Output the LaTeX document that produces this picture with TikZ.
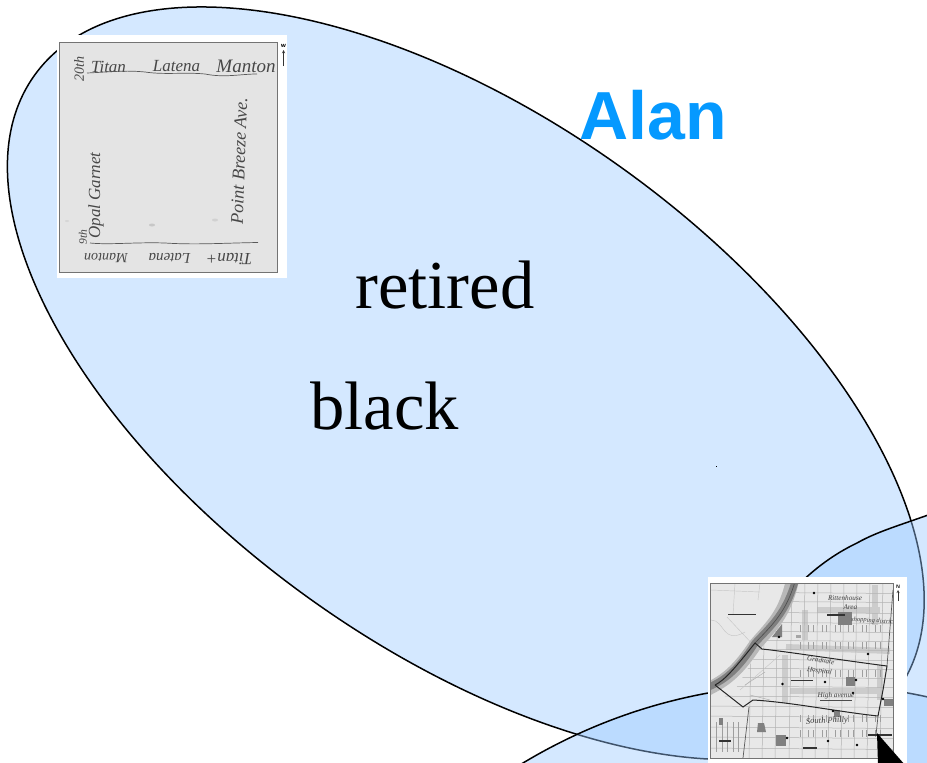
\documentclass[tikz,border=0pt]{standalone}
\usepackage{fontspec}
\setmainfont{Liberation Serif}
\newfontfamily\alanfont{Liberation Sans}
\definecolor{ellfill}{RGB}{152,200,255}
\definecolor{alanblue}{HTML}{0599FF}
\tikzset{
  blob/.style={fill=ellfill,fill opacity=0.42,draw=black,draw opacity=1,line width=1.5pt},
  bigword/.style={anchor=base,font=\fontsize{68.6}{68.6}\selectfont,text=black,inner sep=0pt},
  hand/.style={font=\itshape\fontsize{17}{17}\selectfont,text=black!72,inner sep=0pt},
  maphand/.style={font=\itshape\fontsize{7.2}{7.2}\selectfont,text=black!75,inner sep=0pt,align=center},
  street/.style={draw=black!30,line width=0.5pt},
  thinstreet/.style={draw=black!38,line width=0.35pt},
  band/.style={draw=black!20,line width=6pt},
  park/.style={fill=black!50},
  mapbar/.style={draw=black!80,line width=1.9pt},
  border/.style={draw=black!85,line width=1pt},
}
\begin{document}
\begin{tikzpicture}[x=1pt,y=-1pt]
\useasboundingbox (0,0) rectangle (927,763);
\clip (0,0) rectangle (927,763);
% ellipses
\path[blob,rotate around={-35.5:(465.8,383.3)}] (465.8,383.3) ellipse [x radius=530pt,y radius=266pt];
\path[blob] (808,1237) circle [radius=553pt];
\path[blob] (719,775) .. controls (730,650) and (790,575) .. (857,543) .. controls (880,530) and (905,524) .. (950,507) -- (1000,507) -- (1000,800) -- (719,800) -- cycle;
% tiny dot
\fill[black] (715.5,465.5) rectangle (716.8,466.8);
% words
\node[bigword] (retired) at (445,308) {retired};
\node[bigword] (black) at (384.5,429) {black};
\node[anchor=base,inner sep=0pt,text=alanblue,font=\alanfont\bfseries\fontsize{68}{68}\selectfont] (alan) at (653,139) {Alan};
% ---------- sketch inset ----------
\fill[white] (57,35) rectangle (287,278);
\draw[draw=black!55,fill=black!10.5,line width=0.8pt] (59.5,42) rectangle (277.5,272);
\node[hand,anchor=base] (t1) at (108.5,72) {Titan};
\node[hand,anchor=base] (t2) at (176.5,71) {Latena};
\node[hand,anchor=base,font=\itshape\fontsize{19}{19}\selectfont] (t3) at (246,72) {Manton};
\node[hand,rotate=90,font=\itshape\fontsize{14}{14}\selectfont] (t4) at (79,69) {20th};
\node[hand,rotate=90,font=\itshape\fontsize{11.5}{11.5}\selectfont] (t5) at (83,237) {9th};
\node[hand,rotate=90,anchor=base] (t6) at (100,195.5) {Opal Garnet};
\node[hand,rotate=88,anchor=base,font=\itshape\fontsize{18}{18}\selectfont] (t7) at (245,161) {Point Breeze Ave.};
\node[hand,rotate=180,anchor=base,font=\itshape\fontsize{14}{14}\selectfont] (t8) at (106,253) {Manton};
\node[hand,rotate=180,anchor=base,font=\itshape\fontsize{15}{15}\selectfont] (t9) at (169.5,253) {Latena};
\node[hand,rotate=180,anchor=base,font=\itshape\fontsize{17}{17}\selectfont] (t10) at (229,253) {Titan+};
\draw[black!65,line width=0.7pt] (87,73) .. controls (110,72) and (125,70) .. (145,72) .. controls (165,75) and (185,72) .. (205,74) .. controls (225,78) and (240,74) .. (257,74);
\draw[black!65,line width=0.7pt] (90,243) .. controls (110,245) and (135,242) .. (165,243) .. controls (195,245) and (225,243) .. (258,242.5);
\fill[black!22] (152,225) ellipse [x radius=3pt,y radius=1.5pt];
\fill[black!18] (215,220) ellipse [x radius=3pt,y radius=1.5pt];
\fill[black!16] (67,221) ellipse [x radius=2pt,y radius=1pt];
\node[inner sep=0pt,font=\bfseries\sffamily\fontsize{7}{7}\selectfont] (wlab) at (283.5,46) {w};
\coordinate (wa) at (283.5,66);
\coordinate (wb) at (283.5,50);
\draw[-stealth,line width=0.5pt,black!80] (wa) -- (wb);
% ---------- map inset ----------
\fill[white] (708,577) rectangle (907,763);
\fill[black!9] (710.5,583) rectangle (893,758);
\begin{scope}
\clip (710.5,583) rectangle (893,758);
% light bands
\foreach \a/\b in {{(786,647)/(890,651)},{(790,691)/(880,691)},{(785,655)/(785,703)},{(880,665)/(880,700)},{(817,610)/(880,610)},{(875,585)/(875,625)},{(805,610)/(805,640)}}{
  \draw[band] \a -- \b;
}
% east of river grid
\begin{scope}
\clip (790,583) -- (893,583) -- (893,758) -- (711,758) -- (711,705) -- (735,690) -- (760,648) -- (778,620) -- cycle;
\foreach \y in {592,601,612,622,631,640,649,659,668,677,686,696,706,716,727,737,748}{
  \draw[street] (700,\y) -- (900,\y+1.5);
}
\foreach \x in {752,765,778,792,805,818,831,844,857,870,883}{
  \draw[street] (\x,580) -- (\x-3,760);
}
\foreach \x in {800,808,813,822,826,835,840,848,853,862,866,875,880}{
  \foreach \y in {625,642,670,715,730}{
    \draw[thinstreet] (\x,\y) -- (\x,\y+7);
  }
}
\foreach \x in {716,722,727,733,738}{
  \draw[thinstreet] (\x,722) -- (\x,752);
}
\end{scope}
% west side
\draw[black!22,line width=0.45pt] (711,590) -- (760,592) (735,583) -- (733,615) (711,620) .. controls (725,620) and (722,645) .. (745,632) (727,617) -- (758,650) (760,583) -- (758,600) (780,655) -- (740,690);
\foreach \a/\b in {{(745,685)/(765,672)},{(750,695)/(770,700)}}{
  \draw[black!32,line width=0.45pt] \a -- \b;
}
% river
\draw[black!28,line width=13pt] (706,690) .. controls (722,682) and (735,675) .. (755,645) .. controls (772,625) and (785,615) .. (793,578);
\draw[black!50,line width=7pt] (706,688) .. controls (722,682) and (737,672) .. (755,643) .. controls (772,625) and (787,612) .. (796,578);
\draw[black!70,line width=0.6pt] (755,643) .. controls (772,625) and (787,612) .. (796,578);
% parks
\fill[park] (838,612) rectangle (852,625);
\fill[park] (845.5,677) rectangle (855,686);
\fill[park] (776,735) rectangle (786,746);
\fill[park] (758,723) -- (764,723) -- (766,732) -- (757,732) -- cycle;
\fill[park] (718.5,718) rectangle (723,725);
\fill[park] (772,637) -- (782,624) -- (782,637) -- cycle;
\fill[park] (834,710) rectangle (840,717);
\fill[park] (884,699) rectangle (893,706);
\fill[black!35] (796,634.5) rectangle (801,637.5);
% boundary
\draw[border] (715,685) .. controls (725,680) and (735,668) .. (755,643) -- (762,649) .. controls (790,652) and (840,660) .. (887,666) -- (883,690) -- (878,716);
\draw[border] (715,685) -- (743,707) -- (753,700) .. controls (790,702) and (840,712) .. (878,716);
\draw[black!65,line width=0.7pt] (887,666) -- (893,590);
\draw[black!65,line width=0.7pt] (749,707) -- (743,758);
\draw[black!65,line width=0.7pt] (878,716) -- (876,735);
% label marks
\foreach \a/\b in {{(728,614.5)/(756,614.5)},{(827,615)/(845,615)},{(791,680.5)/(813,680.5)},{(719,741)/(731,741)},{(803,748)/(817,748)},{(868,735)/(892,735)}}{
  \draw[mapbar] \a -- \b;
}
% dots
\foreach \x/\y in {814/593,779/637,868/654,782.5/684,825/682,856/680,853/693,833/711,787/738,828/741,857/745,883/699}{
  \fill[black] (\x,\y) circle [radius=1.3pt];
}
\node[maphand] (h1) at (845,602.5) {Rittenhouse\\[1pt]\hspace*{1.5em}Area};
\node[maphand,rotate=-4,font=\itshape\fontsize{6.5}{6.5}\selectfont] (h2) at (873,621) {shopping district};
\node[maphand,rotate=-8] (h3) at (820,666) {Graduate\\[3pt]Hospital};
\node[maphand] (h4) at (836,696) {High avenue};
\draw[black!70,line width=0.4pt] (820,700) -- (852,700);
\node[maphand,rotate=3,font=\itshape\fontsize{8.5}{8.5}\selectfont] (h5) at (827,721) {South Philly};
\end{scope}
\draw[black!55,line width=0.8pt] (710.5,583) rectangle (893,758);
\node[inner sep=0pt,font=\bfseries\sffamily\fontsize{5}{5}\selectfont] (nlab) at (898,587) {N};
\coordinate (na) at (898,601);
\coordinate (nb) at (898,590);
\draw[-stealth,line width=0.4pt,black!80] (na) -- (nb);
% pointer
\fill[black] (877,733) -- (905,765) -- (878,765) -- cycle;
\end{tikzpicture}
\end{document}
